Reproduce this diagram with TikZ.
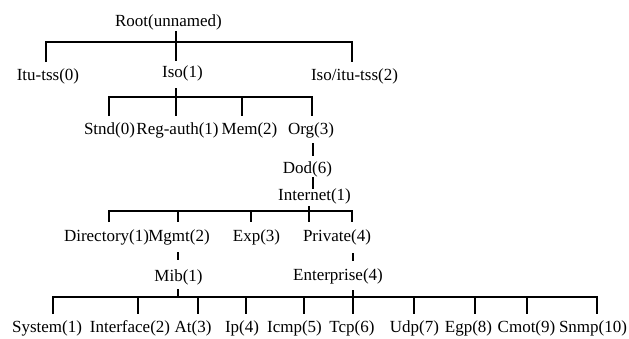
\documentclass[tikz,border=0pt]{standalone}
\usepackage{fontspec}
\setmainfont{Liberation Serif}
\begin{document}
\begin{tikzpicture}[x=1pt,y=-1pt,
  lbl/.style={inner sep=0pt, font=\fontsize{17}{19}\selectfont},
  ln/.style={line width=1.2pt}]
\useasboundingbox (0,0) rectangle (629,338);
% level 0
\node[lbl] (root) at (168.5,22) {Root(unnamed)};
% level 1
\node[lbl] (itu) at (48,76) {Itu-tss(0)};
\node[lbl] (iso) at (182.5,73) {Iso(1)};
\node[lbl] (isoitu) at (354.5,76) {Iso/itu-tss(2)};
% level 2
\node[lbl] (stnd) at (109.5,130) {Stnd(0)};
\node[lbl] (regauth) at (177.5,130) {Reg-auth(1)};
\node[lbl] (mem) at (249.5,130) {Mem(2)};
\node[lbl] (org) at (311,130) {Org(3)};
% level 3,4
\node[lbl] (dod) at (307.5,169) {Dod(6)};
\node[lbl] (internet) at (314.5,196) {Internet(1)};
% level 5
\node[lbl] (directory) at (106.5,237) {Directory(1)};
\node[lbl] (mgmt) at (179,237) {Mgmt(2)};
\node[lbl] (exp) at (256.5,237) {Exp(3)};
\node[lbl] (private) at (337,237) {Private(4)};
% level 6
\node[lbl] (mib) at (178.5,277) {Mib(1)};
\node[lbl] (enterprise) at (338,276) {Enterprise(4)};
% level 7
\node[lbl] (system) at (47,328) {System(1)};
\node[lbl] (interface) at (130,328) {Interface(2)};
\node[lbl] (at) at (193,328) {At(3)};
\node[lbl] (ip) at (242,328) {Ip(4)};
\node[lbl] (icmp) at (294.5,328) {Icmp(5)};
\node[lbl] (tcp) at (352,328) {Tcp(6)};
\node[lbl] (udp) at (414.5,328) {Udp(7)};
\node[lbl] (egp) at (468.5,328) {Egp(8)};
\node[lbl] (cmot) at (526.5,328) {Cmot(9)};
\node[lbl] (snmp) at (593,328) {Snmp(10)};

% bus points
\coordinate (rootT) at (176,31);  \coordinate (rootB) at (176,42);
\coordinate (ituB) at (46,42);    \coordinate (ituE) at (46,62);
\coordinate (isoE) at (176,61);
\coordinate (isoituB) at (352,42); \coordinate (isoituE) at (352,62);

\coordinate (isoT) at (176,88);  \coordinate (isoB) at (176,97);
\coordinate (stndB) at (109,97); \coordinate (stndE) at (109,116);
\coordinate (regE) at (176,116);
\coordinate (memB) at (242,97);  \coordinate (memE) at (242,116);
\coordinate (orgB) at (312,97);  \coordinate (orgE) at (312,116);

\coordinate (orgT) at (313,143); \coordinate (dodE) at (313,156);
\coordinate (dodT) at (313,177); \coordinate (intE) at (313,189);

\coordinate (intT) at (309,206); \coordinate (intB) at (309,211);
\coordinate (dirB) at (109,211); \coordinate (dirE) at (109,222);
\coordinate (mgmtB) at (178,211); \coordinate (mgmtE) at (178,222);
\coordinate (expB) at (251,211); \coordinate (expE) at (251,222);
\coordinate (privE) at (309,222);
\coordinate (r5B) at (352,211);  \coordinate (r5E) at (352,222);

\coordinate (mgmtT) at (178,252); \coordinate (mibE) at (178,260);
\coordinate (privT) at (353,253); \coordinate (entE) at (353,261);

\coordinate (mibT) at (178,289); \coordinate (mibB) at (178,297);
\coordinate (entT) at (353,290); \coordinate (entB) at (353,297);

% root
\draw[ln] (rootT) -- (rootB);
\draw[ln] (ituE) -- (ituB) -- (isoituB) -- (isoituE);
\draw[ln] (rootB) -- (isoE);
% iso
\draw[ln] (isoT) -- (isoB);
\draw[ln] (stndE) -- (stndB) -- (orgB) -- (orgE);
\draw[ln] (isoB) -- (regE);
\draw[ln] (memB) -- (memE);
% org, dod
\draw[ln] (orgT) -- (dodE);
\draw[ln] (dodT) -- (intE);
% internet
\draw[ln] (intT) -- (intB);
\draw[ln] (dirE) -- (dirB) -- (r5B) -- (r5E);
\draw[ln] (mgmtB) -- (mgmtE);
\draw[ln] (expB) -- (expE);
\draw[ln] (intB) -- (privE);
% mgmt, private
\draw[ln] (mgmtT) -- (mibE);
\draw[ln] (privT) -- (entE);
% mib / enterprise bus
\draw[ln] (mibT) -- (mibB);
\draw[ln] (entT) -- (entB);
\draw[ln] (53,314) -- (53,297) -- (597,297) -- (597,314);
\foreach \x in {138,198,246,304,353,414,475,527}
  \draw[ln] (\x,297) -- (\x,314);
\end{tikzpicture}
\end{document}
